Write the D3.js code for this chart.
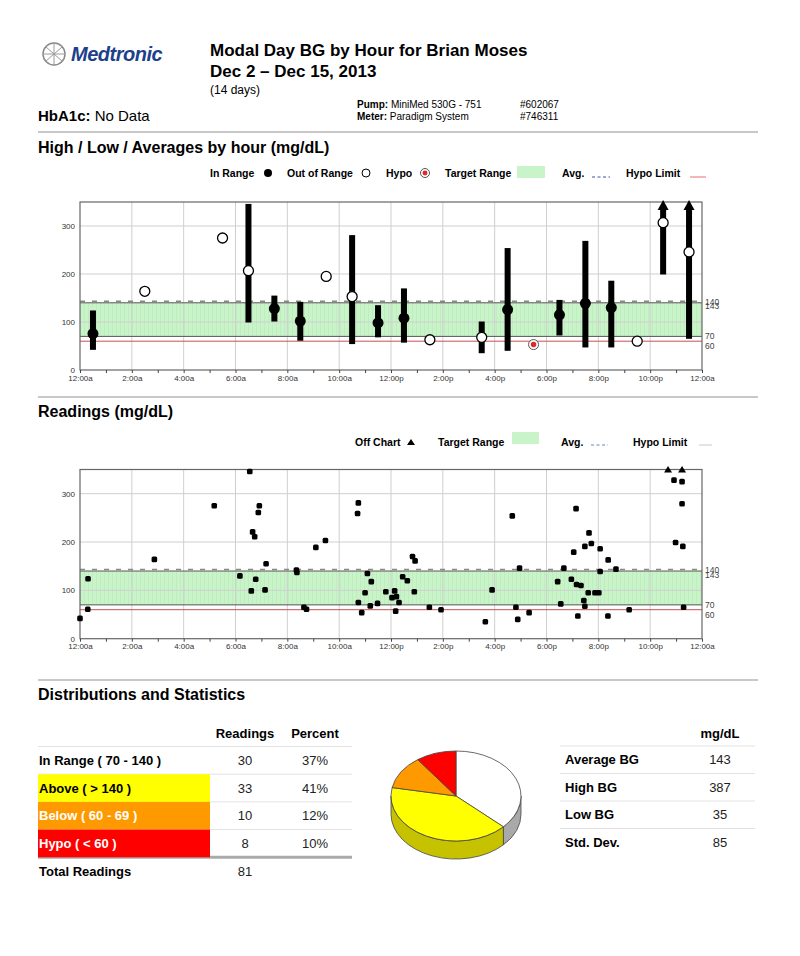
<!DOCTYPE html>
<html>
<head>
<meta charset="utf-8">
<script src="https://cdn.jsdelivr.net/npm/d3@7"></script>
<style>
  body { margin: 0; background: #fff; }
  text { font-family: "Liberation Sans", Arial, sans-serif; }
</style>
</head>
<body>
<div id="chart"></div>
<script>
// hourly high / low / average (mg/dL), one entry per hour that has readings
const hourMid  = [0.5, 2.5, 5.5, 6.5, 7.5, 8.5, 9.5, 10.5, 11.5, 12.5, 13.5, 15.5, 16.5, 17.5, 18.5, 19.5, 20.5, 21.5, 22.5, 23.5];
const hourLow  = [42, 164, 275, 99, 101, 61, 189, 54, 68, 57, 60, 35, 40, 53, 72, 47, 47, 60, 199, 65];
const hourHigh = [124, 164, 275, 346, 155, 142, 203, 281, 135, 170, 65, 101, 254, 53, 146, 269, 186, 60, 387, 370];
const hourAvg  = [76, 164, 275, 207, 128, 102, 195, 153, 98, 108, 63, 68, 126, 53, 115, 139, 130, 60, 307, 246];

// individual readings: time of day (hours) and value (mg/dL)
const readHour = [0.00, 0.31, 0.30, 2.87, 5.18, 6.55, 6.17, 6.66, 6.74, 6.92, 6.88, 6.61, 6.78, 7.18, 7.14,
  8.35, 8.37, 8.64, 8.74, 9.10, 9.47, 10.74, 10.71, 10.74, 10.87, 11.09, 11.24, 11.00, 11.20, 11.48,
  11.80, 12.04, 12.14, 12.21, 12.18, 12.31, 12.45, 12.63, 12.83, 12.93, 12.90, 13.48, 13.93, 15.64,
  15.90, 16.68, 16.96, 16.82, 16.89, 17.33, 18.43, 18.67, 18.55, 18.96, 19.14, 19.05, 19.16, 19.33,
  19.48, 19.64, 19.73, 19.61, 19.44, 19.48, 19.21, 19.87, 20.02, 20.07, 20.07, 20.38, 20.37, 20.68,
  21.19, 22.69, 23.23, 22.92, 23.23, 23.23, 22.98, 23.26, 23.29];
const readValue = [42, 124, 61, 164, 275, 346, 130, 221, 211, 275, 261, 99, 123, 155, 101,
  142, 137, 65, 61, 189, 203, 281, 259, 75, 54, 135, 118, 95, 68, 73,
  97, 85, 99, 87, 57, 75, 128, 120, 170, 161, 97, 65, 60, 35,
  101, 254, 146, 65, 40, 54, 118, 146, 72, 123, 269, 179, 112, 110,
  191, 219, 197, 95, 79, 67, 47, 95, 95, 186, 139, 163, 47, 144,
  60, 387, 370, 328, 325, 279, 199, 191, 65];

const tickLabels = ["12:00a", "2:00a", "4:00a", "6:00a", "8:00a", "10:00a", "12:00p",
  "2:00p", "4:00p", "6:00p", "8:00p", "10:00p", "12:00a"];
const yTicks = [0, 100, 200, 300];
const yMax = 350, targetLow = 70, targetHigh = 140, avgLine = 143, hypoLimit = 60;

// distribution table and statistics
const distLabels   = ["In Range ( 70 - 140 )", "Above ( > 140 )", "Below ( 60 - 69 )", "Hypo ( < 60 )"];
const distCounts   = [30, 33, 10, 8];
const distPercents = [37, 41, 12, 10];
const totalReadings = 81;
const statLabels = ["Average BG", "High BG", "Low BG", "Std. Dev."];
const statValues = [143, 387, 35, 85];

const W = 800, H = 956;
const svg = d3.select("#chart").append("svg").attr("width", W).attr("height", H);
svg.append("rect").attr("width", W).attr("height", H).attr("fill", "#fff");

// pattern for the green target band
const defs = svg.append("defs");
const pat = defs.append("pattern").attr("id", "band").attr("patternUnits", "userSpaceOnUse")
  .attr("width", 4).attr("height", 4);
pat.append("rect").attr("width", 4).attr("height", 4).attr("fill", "#c9f3c9");
pat.append("line").attr("x1", 0.5).attr("x2", 0.5).attr("y1", 0).attr("y2", 4)
  .attr("stroke", "#b9e9b9").attr("stroke-width", 0.6);

// ---------- header ----------
const logo = svg.append("g");
logo.append("circle").attr("cx", 54).attr("cy", 54).attr("r", 11)
  .attr("fill", "none").attr("stroke", "#8a8a8a").attr("stroke-width", 1.5);
logo.append("path").attr("d", "M46,47 L62,61 M62,47 L46,61 M54,43 L54,65 M43,54 L65,54")
  .attr("stroke", "#9a9a9a").attr("stroke-width", 1);
logo.append("text").attr("x", 71).attr("y", 61).attr("font-size", 20).attr("font-weight", "bold")
  .attr("font-style", "italic").attr("fill", "#1d3f8c").attr("letter-spacing", -0.5).text("Medtronic");

svg.append("text").attr("x", 210).attr("y", 56).attr("font-size", 17).attr("font-weight", "bold")
  .text("Modal Day BG by Hour for Brian Moses");
svg.append("text").attr("x", 210).attr("y", 77).attr("font-size", 17).attr("font-weight", "bold")
  .text("Dec 2 \u2013 Dec 15, 2013");
svg.append("text").attr("x", 210).attr("y", 94).attr("font-size", 12).text("(14 days)");

const hb = svg.append("text").attr("x", 38).attr("y", 121).attr("font-size", 15);
hb.append("tspan").attr("font-weight", "bold").text("HbA1c:");
hb.append("tspan").text("  No Data");

const dev = svg.append("g");
[["Pump:", " MiniMed 530G - 751", "#602067", 108], ["Meter:", " Paradigm System", "#746311", 120]]
  .forEach(([k, v, n, yy]) => {
    const t = dev.append("text").attr("x", 357).attr("y", yy).attr("font-size", 10)
      .style("font-family", "'Liberation Sans Narrow', sans-serif");
    t.append("tspan").attr("font-weight", "bold").text(k);
    t.append("tspan").text(v);
    dev.append("text").attr("x", 520).attr("y", yy).attr("font-size", 10)
      .style("font-family", "'Liberation Sans Narrow', sans-serif").text(n);
  });

// section separators and headings
[132, 397, 680].forEach(yy => {
  svg.append("line").attr("x1", 38).attr("x2", 758).attr("y1", yy).attr("y2", yy)
    .attr("stroke", "#c8c8c8").attr("stroke-width", 2);
});
svg.append("text").attr("x", 38).attr("y", 153).attr("font-size", 16).attr("font-weight", "bold")
  .text("High / Low / Averages by hour (mg/dL)");
svg.append("text").attr("x", 38).attr("y", 417).attr("font-size", 16).attr("font-weight", "bold")
  .text("Readings (mg/dL)");
svg.append("text").attr("x", 38).attr("y", 700).attr("font-size", 16).attr("font-weight", "bold")
  .text("Distributions and Statistics");

// ---------- shared chart frame ----------
const x = d3.scaleLinear().domain([0, 24]).range([80, 702]);

function hypoMarker(g, cx, cy, r) {
  g.append("circle").attr("cx", cx).attr("cy", cy).attr("r", r)
    .attr("fill", "#fff").attr("stroke", "#555").attr("stroke-width", 1);
  g.append("circle").attr("cx", cx).attr("cy", cy).attr("r", r * 0.55).attr("fill", "#e02828");
}

function drawFrame(yTop, yBottom) {
  const y = d3.scaleLinear().domain([0, yMax]).range([yBottom, yTop]);
  const g = svg.append("g");
  const x0 = x(0), x1 = x(24);

  g.append("rect").attr("x", x0).attr("width", x1 - x0)
    .attr("y", y(targetHigh)).attr("height", y(targetLow) - y(targetHigh)).attr("fill", "url(#band)");

  g.selectAll(".vg").data(d3.range(2, 24, 2)).join("line")
    .attr("x1", d => x(d)).attr("x2", d => x(d)).attr("y1", yTop).attr("y2", yBottom)
    .attr("stroke", "#cfcfcf").attr("stroke-width", 1);
  g.selectAll(".hg").data(yTicks.slice(1)).join("line")
    .attr("x1", x0).attr("x2", x1).attr("y1", d => y(d)).attr("y2", d => y(d))
    .attr("stroke", "#cfcfcf").attr("stroke-width", 1);

  // target band edges, average and hypo limit
  [targetHigh, targetLow].forEach(v => {
    g.append("line").attr("x1", x0).attr("x2", x1).attr("y1", y(v)).attr("y2", y(v))
      .attr("stroke", "#555").attr("stroke-width", 1);
  });
  g.append("line").attr("x1", x0).attr("x2", x1).attr("y1", y(avgLine)).attr("y2", y(avgLine))
    .attr("stroke", "#888").attr("stroke-width", 1.5).attr("stroke-dasharray", "5,7");
  g.append("line").attr("x1", x0).attr("x2", x1).attr("y1", y(hypoLimit)).attr("y2", y(hypoLimit))
    .attr("stroke", "#c85050").attr("stroke-width", 1);

  g.append("rect").attr("x", x0).attr("y", yTop).attr("width", x1 - x0).attr("height", yBottom - yTop)
    .attr("fill", "none").attr("stroke", "#666").attr("stroke-width", 1.2);

  // axes
  const xa = g.append("g").attr("transform", `translate(0,${yBottom})`)
    .call(d3.axisBottom(x).tickValues(d3.range(0, 25)).tickSize(3).tickPadding(2)
      .tickFormat(h => h % 2 === 0 ? tickLabels[h / 2] : ""));
  xa.select(".domain").remove();
  xa.selectAll("line").attr("stroke", "#444");
  xa.selectAll("text").attr("font-size", 8).attr("fill", "#333")
    .attr("font-family", "'Liberation Sans', sans-serif");

  const ya = g.append("g").attr("transform", `translate(${x0 - 2},0)`)
    .call(d3.axisLeft(y).tickValues(yTicks).tickSize(0).tickPadding(3));
  ya.select(".domain").remove();
  ya.selectAll("text").attr("font-size", 8).attr("fill", "#333")
    .attr("font-family", "'Liberation Sans', sans-serif");

  // right-hand reference labels (140 and 143 sit almost on top of each other, as in the report)
  [[targetHigh, 2], [avgLine, 8], [targetLow, 3], [hypoLimit, 8]].forEach(([v, dy]) => {
    g.append("text").attr("x", x1 + 3).attr("y", y(v) + dy).attr("font-size", 8.5).attr("fill", "#444")
      .text(v);
  });
  return { g, y };
}

// ---------- chart 1: high / low / averages ----------
const c1 = drawFrame(202, 370);
{
  const { g, y } = c1;
  const hourly = hourMid.map((h, i) => ({ h, lo: hourLow[i], hi: hourHigh[i], avg: hourAvg[i] }));
  g.selectAll(".bar").data(hourly.filter(d => d.hi > d.lo)).join("rect")
    .attr("x", d => x(d.h) - 3).attr("width", 6)
    .attr("y", d => y(Math.min(d.hi, yMax)) + (d.hi > yMax ? 6 : 0))
    .attr("height", d => y(d.lo) - y(Math.min(d.hi, yMax)) - (d.hi > yMax ? 6 : 0))
    .attr("fill", "#000");
  g.selectAll(".arrow").data(hourly.filter(d => d.hi > yMax)).join("path")
    .attr("d", d => {
      const cx = x(d.h), t = y(yMax) - 2;
      return `M${cx},${t} L${cx + 5.5},${t + 10} L${cx - 5.5},${t + 10} Z`;
    })
    .attr("fill", "#000");
  hourly.forEach(d => {
    const cx = x(d.h), cy = y(d.avg);
    if (d.avg < hypoLimit) {
      hypoMarker(g, cx, cy, 5);
    } else if (d.avg >= targetLow && d.avg <= targetHigh) {
      g.append("circle").attr("cx", cx).attr("cy", cy).attr("r", 5.5).attr("fill", "#000");
    } else {
      g.append("circle").attr("cx", cx).attr("cy", cy).attr("r", 5)
        .attr("fill", "#fff").attr("stroke", "#000").attr("stroke-width", 1.3);
    }
  });

  // legend
  const lg = svg.append("g").attr("font-size", 10.5).attr("font-weight", "bold");
  lg.append("text").attr("x", 210).attr("y", 177).text("In Range");
  lg.append("circle").attr("cx", 268).attr("cy", 173).attr("r", 4).attr("fill", "#000");
  lg.append("text").attr("x", 287).attr("y", 177).text("Out of Range");
  lg.append("circle").attr("cx", 366).attr("cy", 173).attr("r", 4)
    .attr("fill", "#fff").attr("stroke", "#000").attr("stroke-width", 1);
  lg.append("text").attr("x", 386).attr("y", 177).text("Hypo");
  hypoMarker(lg, 425, 173, 4.5);
  lg.append("text").attr("x", 445).attr("y", 177).text("Target Range");
  lg.append("rect").attr("x", 517).attr("y", 166).attr("width", 28).attr("height", 12).attr("fill", "#c9f3c9");
  lg.append("text").attr("x", 562).attr("y", 177).text("Avg.");
  lg.append("line").attr("x1", 592).attr("x2", 610).attr("y1", 177).attr("y2", 177)
    .attr("stroke", "#3b55a8").attr("stroke-width", 1).attr("stroke-dasharray", "3,2.5");
  lg.append("text").attr("x", 626).attr("y", 177).text("Hypo Limit");
  lg.append("line").attr("x1", 690).attr("x2", 706).attr("y1", 177).attr("y2", 177)
    .attr("stroke", "#e07070").attr("stroke-width", 1);
}

// ---------- chart 2: readings ----------
const c2 = drawFrame(469.5, 638.7);
{
  const { g, y } = c2;
  const readings = readHour.map((h, i) => ({ h, v: readValue[i] }));
  g.selectAll(".pt").data(readings.filter(d => d.v <= yMax)).join("rect")
    .attr("x", d => x(d.h) - 2.8).attr("y", d => y(d.v) - 2.8)
    .attr("width", 5.6).attr("height", 5.6).attr("rx", 1.5).attr("fill", "#000");
  g.selectAll(".off").data(readings.filter(d => d.v > yMax)).join("path")
    .attr("d", d => {
      const cx = x(d.h), t = y(yMax);
      return `M${cx},${t - 3.5} L${cx + 4},${t + 3} L${cx - 4},${t + 3} Z`;
    })
    .attr("fill", "#000");

  const lg = svg.append("g").attr("font-size", 10.5).attr("font-weight", "bold");
  lg.append("text").attr("x", 355).attr("y", 446).text("Off Chart");
  lg.append("path").attr("d", "M411,439 L415,445 L407,445 Z").attr("fill", "#000");
  lg.append("text").attr("x", 438).attr("y", 446).text("Target Range");
  lg.append("rect").attr("x", 512).attr("y", 432).attr("width", 27).attr("height", 12).attr("fill", "#c9f3c9");
  lg.append("text").attr("x", 561).attr("y", 446).text("Avg.");
  lg.append("line").attr("x1", 591).attr("x2", 608).attr("y1", 445).attr("y2", 445)
    .attr("stroke", "#7080b8").attr("stroke-width", 1).attr("stroke-dasharray", "3,2.5");
  lg.append("text").attr("x", 633).attr("y", 446).text("Hypo Limit");
  lg.append("line").attr("x1", 699).attr("x2", 712).attr("y1", 445).attr("y2", 445)
    .attr("stroke", "#c8c8c8").attr("stroke-width", 1);
}

// ---------- distribution table ----------
const topColors  = ["#ffffff", "#ffff00", "#ff9900", "#ff0000"];
const sideColors = ["#a9a9a9", "#c6c200", "#c77700", "#c00000"];
const textColors = ["#000", "#000", "#fff", "#fff"];
{
  const g = svg.append("g").attr("font-size", 13);
  const rowH = 27.7, row0 = 746.5;
  g.append("text").attr("x", 245).attr("y", 738).attr("text-anchor", "middle")
    .attr("font-weight", "bold").text("Readings");
  g.append("text").attr("x", 315).attr("y", 738).attr("text-anchor", "middle")
    .attr("font-weight", "bold").text("Percent");
  d3.range(5).forEach(i => {
    g.append("line").attr("x1", 38).attr("x2", 352).attr("y1", row0 + i * rowH).attr("y2", row0 + i * rowH)
      .attr("stroke", i === 4 ? "#aaa" : "#e2e2e2").attr("stroke-width", i === 4 ? 3 : 1);
  });
  distLabels.forEach((lab, i) => {
    const top = row0 + i * rowH, mid = top + rowH / 2 + 4.5;
    if (i > 0) {
      g.append("rect").attr("x", 38).attr("y", top).attr("width", 172).attr("height", rowH)
        .attr("fill", topColors[i]);
    }
    g.append("text").attr("x", 39).attr("y", mid).attr("font-weight", "bold")
      .attr("fill", textColors[i]).text(lab);
    g.append("text").attr("x", 245).attr("y", mid).attr("text-anchor", "middle").attr("fill", "#222")
      .text(distCounts[i]);
    g.append("text").attr("x", 315).attr("y", mid).attr("text-anchor", "middle").attr("fill", "#222")
      .text(distPercents[i] + "%");
  });
  g.append("text").attr("x", 39).attr("y", 876).attr("font-weight", "bold").text("Total Readings");
  g.append("text").attr("x", 245).attr("y", 876).attr("text-anchor", "middle").attr("fill", "#222")
    .text(totalReadings);
}

// ---------- 3D pie ----------
{
  const cx = 456, cy = 796, rx = 65, ry = 45, depth = 18;
  const p = a => [cx + rx * Math.sin(a), cy - ry * Math.cos(a)];
  const arcs = d3.pie().sort(null).value(d => d)(distPercents);
  const g = svg.append("g");
  arcs.forEach((a, i) => {
    const s = Math.max(a.startAngle, Math.PI / 2), e = Math.min(a.endAngle, 3 * Math.PI / 2);
    if (e <= s) return;
    const [xa, ya] = p(s), [xb, yb] = p(e);
    g.append("path")
      .attr("d", `M${xa},${ya} A${rx},${ry} 0 0 1 ${xb},${yb} L${xb},${yb + depth} A${rx},${ry} 0 0 0 ${xa},${ya + depth} Z`)
      .attr("fill", sideColors[i]).attr("stroke", "#444").attr("stroke-width", 0.8);
  });
  arcs.forEach((a, i) => {
    const [xa, ya] = p(a.startAngle), [xb, yb] = p(a.endAngle);
    const large = a.endAngle - a.startAngle > Math.PI ? 1 : 0;
    g.append("path")
      .attr("d", `M${cx},${cy} L${xa},${ya} A${rx},${ry} 0 ${large} 1 ${xb},${yb} Z`)
      .attr("fill", topColors[i]).attr("stroke", "#444").attr("stroke-width", 0.8);
  });
}

// ---------- statistics table ----------
{
  const g = svg.append("g").attr("font-size", 13);
  const rowH = 27.5, row0 = 746;
  g.append("text").attr("x", 720).attr("y", 738).attr("text-anchor", "middle")
    .attr("font-weight", "bold").text("mg/dL");
  statLabels.forEach((lab, i) => {
    const top = row0 + i * rowH, mid = top + rowH / 2 + 4.5;
    g.append("line").attr("x1", 560).attr("x2", 755).attr("y1", top).attr("y2", top)
      .attr("stroke", "#e2e2e2").attr("stroke-width", 1);
    g.append("text").attr("x", 565).attr("y", mid).attr("font-weight", "bold").text(lab);
    g.append("text").attr("x", 720).attr("y", mid).attr("text-anchor", "middle").attr("fill", "#222")
      .text(statValues[i]);
  });
}
</script>
</body>
</html>
